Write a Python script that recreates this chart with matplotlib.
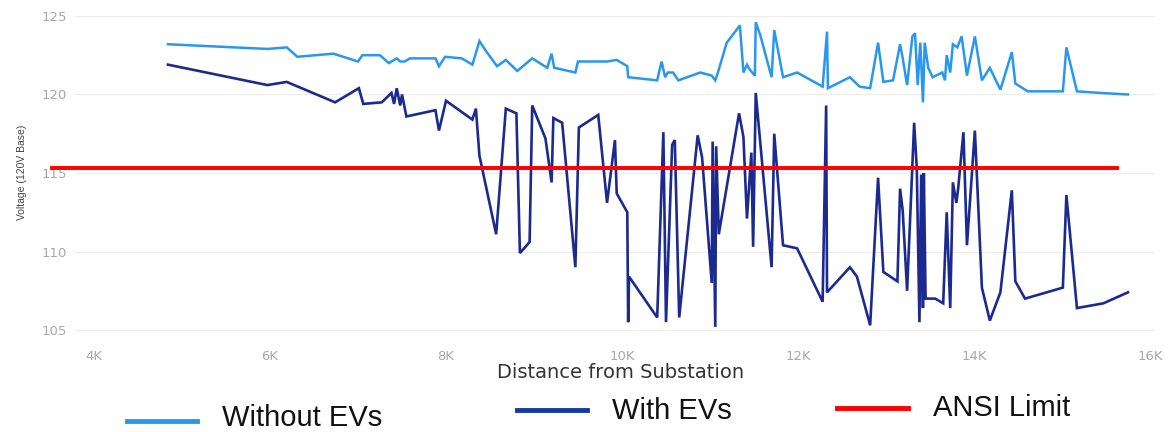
import matplotlib
matplotlib.use("Agg")
import matplotlib.pyplot as plt
from matplotlib.lines import Line2D
from matplotlib.ticker import FuncFormatter

# ---------------- data (distance in thousands of feet, voltage on 120V base) ----------------
dist_without = [4.84, 5.97, 6.19, 6.31, 6.72, 7.00, 7.05, 7.25, 7.35, 7.44, 7.48, 7.53, 7.59,
                7.88, 7.92, 7.99, 8.18, 8.30, 8.38, 8.45, 8.58, 8.68, 8.81, 8.98, 9.15, 9.20,
                9.23, 9.47, 9.50, 9.83, 9.94, 10.06, 10.07, 10.40, 10.45, 10.49, 10.52, 10.58,
                10.64, 10.89, 11.02, 11.06, 11.09, 11.19, 11.34, 11.38, 11.42, 11.45, 11.51,
                11.52, 11.57, 11.70, 11.73, 11.83, 11.99, 12.28, 12.33, 12.34, 12.59, 12.70,
                12.82, 12.91, 12.97, 13.08, 13.16, 13.19, 13.24, 13.30, 13.33, 13.36, 13.39,
                13.42, 13.44, 13.48, 13.53, 13.64, 13.67, 13.69, 13.73, 13.76, 13.81, 13.86,
                13.92, 14.01, 14.09, 14.18, 14.30, 14.43, 14.47, 14.61, 15.01, 15.05, 15.17,
                15.43, 15.75]
volt_without = [123.2, 122.9, 123.0, 122.4, 122.6, 122.1, 122.5, 122.5, 122.0, 122.3, 122.1, 122.1, 122.3,
                122.3, 121.8, 122.4, 122.3, 121.9, 123.4, 122.8, 121.8, 122.2, 121.5, 122.3, 121.7, 122.6,
                121.7, 121.4, 122.1, 122.1, 122.2, 121.8, 121.1, 120.9, 122.1, 121.1, 121.4, 121.4,
                120.9, 121.4, 121.2, 120.9, 121.4, 123.3, 124.4, 121.4, 121.9, 121.6, 121.2,
                124.6, 123.8, 121.1, 124.1, 121.1, 121.4, 120.5, 124.0, 120.4, 121.1, 120.5,
                120.4, 123.3, 120.8, 120.9, 123.2, 122.3, 120.6, 123.7, 123.9, 120.6, 123.3,
                119.5, 123.3, 121.7, 121.1, 121.4, 120.9, 122.5, 121.4, 123.2, 123.0, 123.7,
                121.2, 123.7, 120.9, 121.7, 120.3, 122.7, 120.7, 120.2, 120.2, 123.0, 120.2,
                120.1, 120.0]

dist_with = [4.84, 5.97, 6.19, 6.74, 7.01, 7.06, 7.27, 7.38, 7.41, 7.44, 7.48, 7.50, 7.55,
             7.88, 7.92, 8.00, 8.30, 8.34, 8.38, 8.57, 8.68, 8.80, 8.84, 8.95, 8.98, 9.13,
             9.20, 9.22, 9.32, 9.47, 9.51, 9.73, 9.83, 9.92, 9.94, 10.06, 10.07, 10.08,
             10.40, 10.47, 10.50, 10.57, 10.60, 10.65, 10.86, 10.91, 11.02, 11.03, 11.06,
             11.07, 11.10, 11.33, 11.38, 11.42, 11.47, 11.49, 11.52, 11.70, 11.73, 11.83,
             11.99, 12.28, 12.32, 12.33, 12.59, 12.67, 12.82, 12.91, 12.97, 13.13, 13.16,
             13.19, 13.24, 13.32, 13.35, 13.38, 13.40, 13.42, 13.43, 13.45, 13.56, 13.65,
             13.69, 13.73, 13.76, 13.80, 13.82, 13.88, 13.92, 14.01, 14.09, 14.18, 14.30,
             14.43, 14.47, 14.58, 15.01, 15.05, 15.17, 15.47, 15.75]
volt_with = [121.9, 120.6, 120.8, 119.5, 120.4, 119.4, 119.5, 120.1, 119.4, 120.4, 119.3, 120.0, 118.6,
             119.0, 117.7, 119.6, 118.4, 119.1, 116.1, 111.1, 119.1, 118.8, 109.9, 110.6, 119.3, 117.2,
             114.4, 118.5, 118.2, 109.0, 117.9, 118.7, 113.1, 117.1, 113.7, 112.5, 105.5, 108.4,
             105.8, 117.6, 105.5, 116.8, 117.1, 105.8, 117.4, 116.0, 108.0, 117.0, 105.2,
             116.7, 111.1, 118.8, 117.3, 112.1, 116.3, 110.3, 120.1, 109.0, 117.5, 110.4,
             110.2, 106.8, 119.3, 107.4, 109.0, 108.4, 105.3, 114.7, 108.7, 108.1, 114.0,
             112.6, 107.5, 118.2, 115.3, 105.5, 114.9, 106.4, 115.0, 107.0, 107.0, 106.7,
             112.5, 106.4, 114.4, 113.1, 114.0, 117.6, 110.4, 117.7, 107.7, 105.6, 107.4,
             113.9, 108.1, 107.0, 107.7, 113.6, 106.4, 106.7, 107.4]

ansi_level = 115.3
ansi_span = [3.52, 15.63]

x_ticks = [4, 6, 8, 10, 12, 14, 16]
y_ticks = [105, 110, 115, 120, 125]
series_labels = ["Without EVs", "With EVs", "ANSI Limit"]

# ---------------- styling ----------------
c_without = "#2A97EE"
c_with = "#1C2A90"
c_with_legend = "#163A9C"
c_ansi = "#FF0000"
arial_like = ["Liberation Sans", "DejaVu Sans"]

W, H = 1173, 432
fig = plt.figure(figsize=(W / 100, H / 100), dpi=100)
fig.patch.set_facecolor("white")

ax_left, ax_right, ax_top, ax_bottom = 75, 1155, 10, 336
ax = fig.add_axes([ax_left / W, 1 - ax_bottom / H, (ax_right - ax_left) / W, (ax_bottom - ax_top) / H])
ax.set_xlim(3.784, 16.057)
ax.set_ylim(104.62, 125.38)

for s in ax.spines.values():
    s.set_visible(False)

ax.set_yticks(y_ticks)
ax.set_xticks(x_ticks)
ax.xaxis.set_major_formatter(FuncFormatter(lambda v, p: f"{int(v)}K"))
ax.yaxis.set_major_formatter(FuncFormatter(lambda v, p: f"{int(v)}"))
ax.tick_params(axis="both", length=0, colors="#a8a8a8", labelsize=9.5)
ax.tick_params(axis="y", pad=6)
ax.tick_params(axis="x", pad=10)
ax.grid(axis="y", color="#ececec", linewidth=0.8)
ax.set_axisbelow(True)

ax.plot(dist_without, volt_without, color=c_without, linewidth=1.8, solid_joinstyle="miter", zorder=3)
ax.plot(dist_with, volt_with, color=c_with, linewidth=1.9, solid_joinstyle="miter", zorder=3)
ax.plot(ansi_span, [ansi_level, ansi_level], color=c_ansi, linewidth=2.8, clip_on=False, zorder=4)

fig.text(621 / W, 1 - 372 / H, "Distance from Substation", ha="center", va="center",
         fontsize=14, color="#333333")
fig.text(22 / W, 1 - 172 / H, "Voltage (120V Base)", ha="center", va="center", rotation=90,
         fontsize=7.5, color="#444444", family=arial_like)

# ---------------- legend (manual, below the chart) ----------------
legend_items = [
    (127, 197, 421, 222, 418, c_without),
    (517, 587, 410, 612, 411, c_with_legend),
    (837, 908, 408, 933, 408, c_ansi),
]
for (x0, x1, ly, tx, ty, col), lab in zip(legend_items, series_labels):
    fig.add_artist(Line2D([x0 / W, x1 / W], [1 - ly / H, 1 - ly / H], color=col, linewidth=3.5,
                          transform=fig.transFigure))
    fig.text(tx / W, 1 - ty / H, lab, ha="left", va="center", fontsize=21, color="#111111",
             family=arial_like)

fig.savefig("out.png", dpi=100, facecolor="white")
